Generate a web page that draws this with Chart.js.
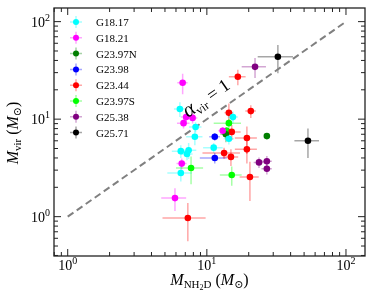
<!DOCTYPE html>
<html>
<head>
<meta charset="utf-8">
<script src="https://cdn.jsdelivr.net/npm/chart.js@4.4.1/dist/chart.umd.min.js"></script>
<style>
  body { margin: 0; background: #fff; }
  canvas { display: block; }
</style>
</head>
<body>
<canvas id="myChart" width="374" height="304"></canvas>
<script>
const groups = ['G18.17', 'G18.21', 'G23.97N', 'G23.98', 'G23.44', 'G23.97S', 'G25.38', 'G25.71'];
const colors = ['#00ffff', '#ff00ff', '#007f00', '#0000ff', '#ff0000', '#00ff00', '#800080', '#000000'];

// M_NH2D per group (Msun)
const mNH2D = [
  [6.4, 15.4, 8.3, 8.2, 14.4, 6.5, 7.4, 7.2, 11.2, 6.5],
  [6.7, 7.1, 7.9, 6.8, 6.6, 5.9, 13.0],
  [13.7, 27.0],
  [11.4, 11.4],
  [16.7, 20.7, 14.4, 15.1, 19.4, 19.4, 13.3, 14.9, 20.4, 7.3],
  [14.4, 13.9, 7.7, 15.1],
  [22.2, 23.7, 27.0, 27.0],
  [32.4, 53.3]
];
// M_vir per group (Msun)
const mVir = [
  [12.7, 10.5, 8.3, 6.6, 6.3, 4.7, 4.8, 4.4, 5.1, 2.8],
  [23.6, 10.5, 10.3, 9.1, 3.5, 1.55, 7.6],
  [7.0, 6.7],
  [6.6, 4.0],
  [27.2, 12.1, 11.6, 7.4, 6.4, 4.9, 4.5, 4.1, 2.55, 0.97],
  [9.1, 7.6, 3.15, 2.67],
  [34.4, 3.6, 3.7, 3.1],
  [43.6, 6.0]
];
const errNH2D = [
  [0.6, 1.3, 0.85, 1.1, 1.2, 0.9, 1.0, 0.7, 1.8, 1.3],
  [0.57, 0.6, 0.65, 0.7, 0.55, 1.2, 0.9],
  [1.2, 0.9],
  [1.0, 2.5],
  [2.3, 1.8, 1.0, 2.4, 3.5, 3.5, 4.0, 1.9, 3.2, 2.5],
  [3.2, 1.0, 1.7, 2.7],
  [4.4, 2.0, 2.3, 2.3],
  [9.2, 10.7]
];
const errVir = [
  [2.2, 1.5, 1.0, 1.2, 0.8, 0.7, 0.9, 0.6, 0.6, 0.5],
  [5.6, 1.3, 1.3, 1.1, 0.45, 0.41, 0.7],
  [1.2, 0.3],
  [0.6, 0.5],
  [4.9, 1.8, 2.9, 1.3, 2.0, 1.4, 0.6, 0.8, 1.1, 0.41],
  [1.0, 0.7, 1.0, 0.6],
  [8, 0.45, 0.5, 0.4],
  [14, 2.0]
];
const oneToOne = [1, 100];
const majorTicks = [1, 10, 100];
const tickExps = ['0', '1', '2'];

const serif = '"Liberation Serif", "DejaVu Serif", serif';

const alpha = (hex, a) => {
  const n = parseInt(hex.slice(1), 16);
  return `rgba(${(n >> 16) & 255},${(n >> 8) & 255},${n & 255},${a})`;
};

// text made of pieces with different fonts / offsets
const rich = (ctx, parts, x, y, align) => {
  let w = 0;
  parts.forEach(p => { ctx.font = p.f; w += ctx.measureText(p.t).width; });
  let cx = align === 'center' ? x - w / 2 : align === 'right' ? x - w : x;
  parts.forEach(p => {
    ctx.font = p.f;
    ctx.fillText(p.t, cx, y + (p.dy || 0));
    cx += ctx.measureText(p.t).width;
  });
};

const datasets = groups.map((g, i) => ({
  label: g,
  data: mNH2D[i].map((x, j) => ({x: x, y: mVir[i][j]})),
  xErr: errNH2D[i],
  yErr: errVir[i],
  backgroundColor: colors[i],
  borderColor: colors[i],
  pointRadius: 3.3,
  borderWidth: 0,
  order: 1
}));
datasets.push({
  type: 'line',
  label: 'one to one',
  data: oneToOne.map(v => ({x: v, y: v})),
  borderColor: '#808080',
  borderWidth: 2,
  borderDash: [7, 4],
  pointRadius: 0,
  order: 10
});

const errorBars = {
  id: 'errorBars',
  beforeDatasetsDraw(chart) {
    const {ctx, chartArea, scales: {x, y}} = chart;
    ctx.save();
    ctx.beginPath();
    ctx.rect(chartArea.left, chartArea.top, chartArea.width, chartArea.height);
    ctx.clip();
    ctx.lineWidth = 1.5;
    chart.data.datasets.forEach(ds => {
      if (!ds.xErr) return;
      ctx.strokeStyle = alpha(ds.borderColor, 0.35);
      ds.data.forEach((p, j) => {
        const px = x.getPixelForValue(p.x), py = y.getPixelForValue(p.y);
        ctx.beginPath();
        ctx.moveTo(x.getPixelForValue(p.x - ds.xErr[j]), py);
        ctx.lineTo(x.getPixelForValue(p.x + ds.xErr[j]), py);
        ctx.moveTo(px, y.getPixelForValue(p.y - ds.yErr[j]));
        ctx.lineTo(px, y.getPixelForValue(p.y + ds.yErr[j]));
        ctx.stroke();
      });
    });
    ctx.restore();
  }
};

const decorations = {
  id: 'decorations',
  afterDraw(chart) {
    const {ctx, chartArea: a, scales: {x, y}} = chart;
    ctx.save();
    ctx.fillStyle = '#000';
    ctx.textAlign = 'left';
    ctx.textBaseline = 'alphabetic';

    // frame
    ctx.strokeStyle = '#222';
    ctx.lineWidth = 1.3;
    ctx.strokeRect(a.left, a.top, a.width, a.height);

    // inward ticks on all sides
    ctx.lineWidth = 1;
    const tickVals = (sc) => {
      const out = [];
      for (let d = -1; d <= 2; d++) {
        for (let m = 1; m <= 9; m++) {
          const v = m * Math.pow(10, d);
          if (v > sc.min && v < sc.max) out.push({v: v, major: m === 1});
        }
      }
      return out;
    };
    tickVals(x).forEach(t => {
      const px = x.getPixelForValue(t.v), len = t.major ? 7 : 4;
      ctx.beginPath();
      ctx.moveTo(px, a.bottom); ctx.lineTo(px, a.bottom - len);
      ctx.moveTo(px, a.top); ctx.lineTo(px, a.top + len);
      ctx.stroke();
    });
    tickVals(y).forEach(t => {
      const py = y.getPixelForValue(t.v), len = t.major ? 7 : 4;
      ctx.beginPath();
      ctx.moveTo(a.left, py); ctx.lineTo(a.left + len, py);
      ctx.moveTo(a.right, py); ctx.lineTo(a.right - len, py);
      ctx.stroke();
    });

    // tick labels 10^n
    const big = `14px ${serif}`, sup = `10px ${serif}`;
    majorTicks.forEach((v, k) => {
      rich(ctx, [{t: '10', f: big}, {t: tickExps[k], f: sup, dy: -6}], x.getPixelForValue(v), a.bottom + 14, 'center');
      rich(ctx, [{t: '10', f: big}, {t: tickExps[k], f: sup, dy: -6}], a.left - 4, y.getPixelForValue(v) + 5, 'right');
    });

    // axis titles
    const M = `italic 16px ${serif}`, rm = `16px ${serif}`, sub = `11px ${serif}`, sub2 = `8px ${serif}`;
    rich(ctx, [
      {t: 'M', f: M}, {t: 'NH', f: sub, dy: 3}, {t: '2', f: sub2, dy: 5}, {t: 'D', f: sub, dy: 3},
      {t: ' (', f: rm}, {t: 'M', f: M}, {t: '\u2299', f: sub, dy: 3}, {t: ')', f: rm}
    ], (a.left + a.right) / 2, 285, 'center');

    ctx.save();
    ctx.translate(18, 133);
    ctx.rotate(-Math.PI / 2);
    rich(ctx, [
      {t: 'M', f: M}, {t: 'vir', f: sub, dy: 3},
      {t: ' (', f: rm}, {t: 'M', f: M}, {t: '\u2299', f: sub, dy: 3}, {t: ')', f: rm}
    ], 0, 0, 'center');
    ctx.restore();

    // alpha_vir = 1 label along the dashed line
    const ang = Math.atan2(y.getPixelForValue(100) - y.getPixelForValue(1),
                           x.getPixelForValue(100) - x.getPixelForValue(1));
    ctx.save();
    ctx.translate(188, 118);
    ctx.rotate(ang);
    rich(ctx, [
      {t: '\u03b1', f: `italic 21px ${serif}`}, {t: 'vir', f: `12px ${serif}`, dy: 4},
      {t: ' = 1', f: `18px ${serif}`}
    ], 0, 0, 'left');
    ctx.restore();

    // legend
    groups.forEach((g, i) => {
      const ly = 22 + i * 15.8, lx = 76;
      ctx.strokeStyle = alpha(colors[i], 0.35);
      ctx.lineWidth = 1.5;
      ctx.beginPath();
      ctx.moveTo(lx - 6, ly); ctx.lineTo(lx + 6, ly);
      ctx.moveTo(lx, ly - 6); ctx.lineTo(lx, ly + 6);
      ctx.stroke();
      ctx.fillStyle = colors[i];
      ctx.beginPath();
      ctx.arc(lx, ly, 3, 0, Math.PI * 2);
      ctx.fill();
      ctx.fillStyle = '#000';
      ctx.font = `11px ${serif}`;
      ctx.fillText(g, 96, ly + 4);
    });
    ctx.restore();
  }
};

new Chart(document.getElementById('myChart'), {
  type: 'scatter',
  data: {datasets: datasets},
  options: {
    responsive: false,
    animation: false,
    devicePixelRatio: 1,
    layout: {padding: {left: 54, right: 9, top: 8, bottom: 48}},
    scales: {
      x: {type: 'logarithmic', min: 0.797, max: 137, display: false},
      y: {type: 'logarithmic', min: 0.395, max: 138, display: false}
    },
    plugins: {legend: {display: false}, tooltip: {enabled: false}}
  },
  plugins: [errorBars, decorations]
});
</script>
</body>
</html>
